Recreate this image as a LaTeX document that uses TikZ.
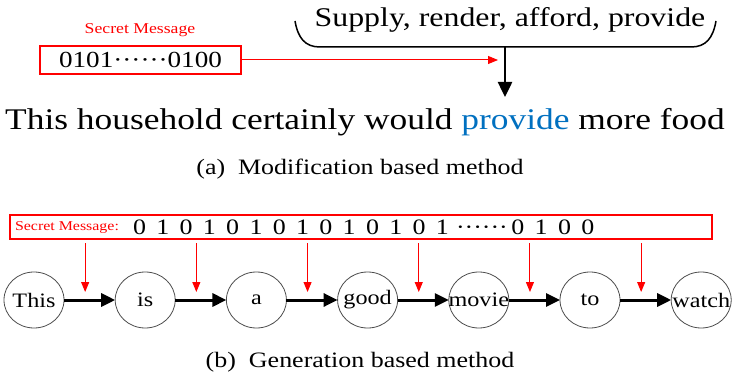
\documentclass[tikz,border=0pt]{standalone}
\usepackage{fontspec}
\setmainfont{Liberation Serif}
\usepackage{xcolor}
\usepackage{graphicx}
\usepackage{tikz}
\usetikzlibrary{arrows.meta, shapes.geometric, positioning, calc}
\definecolor{msgred}{RGB}{255, 0, 0}
\definecolor{wordblue}{RGB}{0, 112, 192}
\newcommand{\wide}[1]{\scalebox{1.18}[1]{#1}}
\newcommand{\gp}{\hspace{8.75pt}}

\begin{document}
\begin{tikzpicture}[x=1pt, y=-1pt, every node/.style={inner sep=0pt, outer sep=0pt},
    word/.style={draw=black!70, line width=0.8pt, ellipse, minimum width=60pt, minimum height=56pt, font=\fontsize{20.5}{24}\selectfont},
    flow/.style={-{Triangle[length=14pt, width=13pt]}, line width=3pt},
    embed/.style={msgred, line width=1pt, -{Triangle[length=10pt, width=8pt]}}]
        \useasboundingbox (0,0) rectangle (733,374);
        % (a) modification
        \node[text=msgred, font=\fontsize{15}{18}\selectfont] (sm) at (140,30) {\wide{Secret Message}};
        \node[draw=msgred, line width=1.2pt, minimum width=201pt, minimum height=28pt, font=\fontsize{23}{26}\selectfont] (bits) at (140.5,60) {\wide{0101······0100}};
        \node[font=\fontsize{27}{30}\selectfont] (syn) at (510,20) {\wide{Supply, render, afford, provide}};
        \coordinate (bl) at (295,21);
        \coordinate (br) at (716,21);
        \coordinate (stem) at (505,47);
        \coordinate (tip) at (505,97);
        \coordinate (hit) at (498,60);
        \draw[line width=1.5pt] (bl) .. controls (298,38) and (305,47) .. (320,47) -- (691,47) .. controls (706,47) and (713,38) .. (br);
        \draw[-{Triangle[length=15pt, width=14pt]}, line width=2.5pt] (stem) -- (tip);
        \draw[embed] (bits.east) -- (hit);
        \node[font=\fontsize{30}{36}\selectfont, anchor=base] (sent) at (365,130) {\wide{This household certainly would \textcolor{wordblue}{provide} more food}};
        \node[font=\fontsize{22}{26}\selectfont, anchor=base] (capa) at (360,175) {\wide{(a)\ \ Modification based method}};
        % (b) generation
        \node[draw=msgred, line width=1.2pt, minimum width=702pt, minimum height=24pt] (msgbox) at (361,227) {};
        \node[text=msgred, font=\fontsize{13.5}{16}\selectfont, anchor=west] (smb) at (15,227) {\wide{Secret Message:}};
        \node[font=\fontsize{22}{26}\selectfont, anchor=west] (bitsb) at (133,227) {\wide{0\gp1\gp0\gp1\gp0\gp1\gp0\gp1\gp0\gp1\gp0\gp1\gp0\gp1\hspace{6pt}······\hspace{3pt}0\gp1\gp0\gp0}};
        \foreach \w [count=\i] in {This,is,a,good,movie,to,watch}
            \node[word] (w\i) at ({34+111.2*(\i-1)},300) {\makebox[0pt]{\wide{\w}}};
        \foreach \i in {1,...,6}{
            \pgfmathtruncatemacro{\j}{\i+1}
            \draw[flow] (w\i) -- (w\j);
            \coordinate (r\i) at ($(w\i)!0.46!(w\j)+(0,-8)$);
            \draw[embed, shorten <=4pt] (r\i |- msgbox.south) -- (r\i);
        }
        \node[font=\fontsize{22}{26}\selectfont, anchor=base] (capb) at (360,367) {\wide{(b)\ \ Generation based method}};
\end{tikzpicture}
\end{document}
